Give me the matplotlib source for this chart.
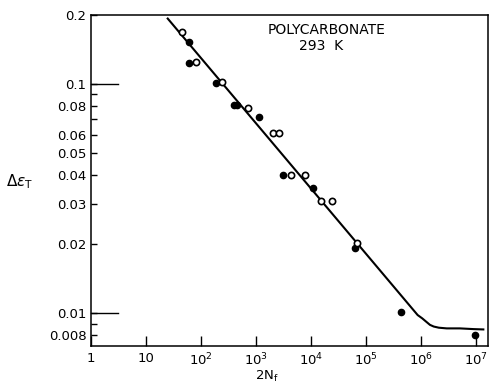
import matplotlib
matplotlib.use("Agg")
import matplotlib.pyplot as plt
from matplotlib.ticker import FixedLocator, NullFormatter

# data
open_n = [45.2, 82.2, 244, 731, 2078, 2637, 4297, 7909, 15250, 23850, 69550]
open_de = [0.168, 0.1243, 0.1016, 0.0785, 0.0611, 0.0611, 0.0401, 0.0401, 0.0307, 0.0307, 0.0202]

filled_n = [60.6, 61.3, 187, 402, 456, 1143, 3155, 10780, 62370, 437500, 9.64e6]
filled_de = [0.1526, 0.123, 0.1013, 0.0809, 0.0811, 0.0717, 0.0401, 0.0353, 0.0193, 0.01007, 0.00804]

curve_n = [25.2, 8.67e5, 1.05e6, 1.25e6, 1.45e6, 1.7e6, 2.1e6, 2.92e6, 5.08e6, 8.85e6, 1.35e7]
curve_de = [0.193, 0.0098, 0.00948, 0.00915, 0.00888, 0.00873, 0.00863, 0.00857, 0.00857, 0.00851, 0.00848]

x_ticks = [1, 10, 1e2, 1e3, 1e4, 1e5, 1e6, 1e7]
x_labels = ["1", "10", "$10^2$", "$10^3$", "$10^4$", "$10^5$", "$10^6$", "$10^7$"]
y_ticks = [0.2, 0.1, 0.08, 0.06, 0.05, 0.04, 0.03, 0.02, 0.01, 0.008]
y_labels = ["0.2", "0.1", "0.08", "0.06", "0.05", "0.04", "0.03", "0.02", "0.01", "0.008"]
y_minor = [0.09, 0.07, 0.009]

fig = plt.figure(figsize=(4.9, 3.91), dpi=100)
ax = fig.add_axes([0.1847, 0.1151, 0.8112, 0.8465])

ax.plot(curve_n, curve_de, color="black", lw=1.5, zorder=2)
ax.plot(filled_n, filled_de, "o", ms=4.5, mfc="black", mec="black", zorder=3)
ax.plot(open_n, open_de, "o", ms=4.5, mfc="white", mec="black", mew=1.2, zorder=3)

ax.set_xscale("log")
ax.set_yscale("log")
ax.set_xlim(1, 1.64e7)
ax.set_ylim(0.00718, 0.2)

ax.xaxis.set_major_locator(FixedLocator(x_ticks))
ax.set_xticklabels(x_labels)
ax.xaxis.set_minor_locator(FixedLocator([]))
ax.yaxis.set_major_locator(FixedLocator(y_ticks))
ax.set_yticklabels(y_labels)
ax.yaxis.set_minor_locator(FixedLocator(y_minor))
ax.yaxis.set_minor_formatter(NullFormatter())

ax.tick_params(axis="both", which="major", direction="in", labelsize=9.5, width=1, color="black")
ax.tick_params(axis="x", which="major", length=7, pad=4)
ax.tick_params(axis="y", which="major", length=4, pad=3)
ax.tick_params(axis="y", which="minor", direction="in", length=4, width=1)

# the long ticks at 0.1 and 0.01
for v in [0.1, 0.01]:
    ax.plot([1, 3.2], [v, v], color="black", lw=1, clip_on=False)

for s in ax.spines.values():
    s.set_linewidth(1.1)

ax.text(1.95e4, 0.172, "POLYCARBONATE", ha="center", va="center", fontsize=10)
ax.text(1.5e4, 0.146, "293  K", ha="center", va="center", fontsize=10)

fig.text(0.040, 0.535, r"$\Delta\epsilon_\mathrm{T}$", ha="center", va="center", fontsize=11)
fig.text(0.545, 0.036, r"$2\mathrm{N}_\mathrm{f}$", ha="center", va="center", fontsize=9.5)

fig.savefig("out.png", dpi=100)
